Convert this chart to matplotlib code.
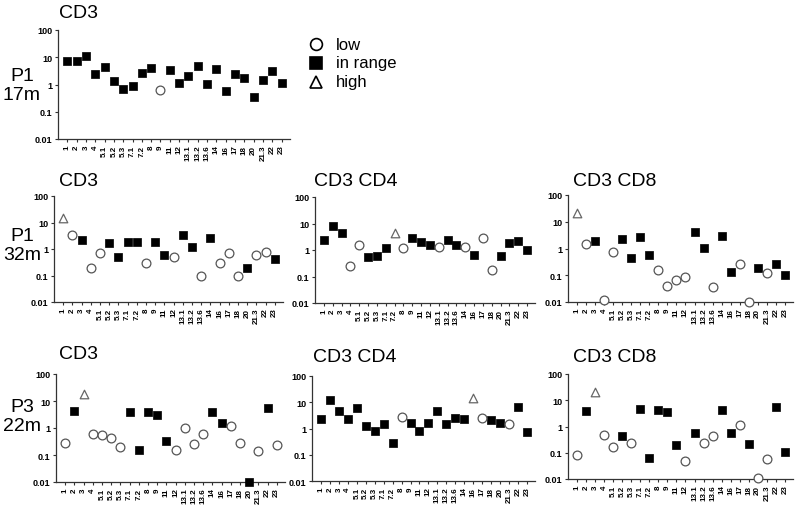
import matplotlib
matplotlib.use("Agg")
import matplotlib.pyplot as plt
import numpy as np

plt.rcParams['font.family'] = ['Liberation Sans', 'DejaVu Sans']

# sample sites on the x axis
sites = ['1', '2', '3', '4', '5.1', '5.2', '5.3', '7.1', '7.2', '8', '9', '11', '12',
         '13.1', '13.2', '13.6', '14', '16', '17', '18', '20', '21.3', '22', '23']

# values per panel; status: l = low, r = in range, h = high
p1_17m_cd3 = [7.5, 7, 11, 2.4, 4.3, 1.35, 0.71, 0.87, 2.7, 4.2, 0.63, 3.3, 1.15, 2.1, 4.9, 1.06,
              3.6, 0.6, 2.4, 1.8, 0.34, 1.47, 3.2, 1.1]
p1_17m_cd3_st = "rrrrrrrrrrlrrrrrrrrrrrrr"

p1_32m_cd3 = [14.5, 3.5, 2.2, 0.19, 0.7, 1.7, 0.49, 1.9, 1.85, 0.3, 1.85, 0.6, 0.5, 3.4, 1.2, 0.1,
              2.5, 0.3, 0.7, 0.1, 0.2, 0.6, 0.8, 0.42]
p1_32m_cd3_st = "hlrllrrrrlrrlrrlrlllrllr"

p1_32m_cd4 = [2.4, 8, 4.2, 0.26, 1.48, 0.54, 0.62, 1.2, 4.2, 1.2, 2.9, 2.0, 1.6, 1.35, 2.3, 1.6,
              1.25, 0.66, 2.9, 0.18, 0.57, 1.9, 2.2, 0.99]
p1_32m_cd4_st = "rrrllrrrhlrrrlrrlrllrrrr"

p1_32m_cd8 = [21, 1.45, 1.95, 0.012, 0.71, 2.25, 0.43, 2.6, 0.56, 0.16, 0.04, 0.065, 0.088, 4.1,
              1.06, 0.036, 3.0, 0.13, 0.26, 0.0103, 0.18, 0.12, 0.26, 0.1]
p1_32m_cd8_st = "hlrllrrrrllllrrlrrllrlrr"

p3_22m_cd3 = [0.27, 4.1, 18, 0.59, 0.53, 0.41, 0.2, 3.8, 0.155, 3.8, 3.1, 0.33, 0.155, 0.96, 0.25,
              0.6, 3.8, 1.5, 1.18, 0.27, 0.01, 0.14, 5.4, 0.23]
p3_22m_cd3_st = "lrhllllrrrrrllllrrllrlrl"

p3_22m_cd4 = [2.4, 12.4, 4.5, 2.4, 6.3, 1.3, 0.8, 1.5, 0.29, 2.8, 1.6, 0.78, 1.58, 4.7, 1.5, 2.6,
              2.25, 14.5, 2.5, 2.05, 1.66, 1.45, 6.6, 0.74]
p3_22m_cd4_st = "rrrrrrrrrlrrrrrrrhlrrlrr"

p3_22m_cd8 = [0.083, 3.9, 20, 0.48, 0.17, 0.43, 0.23, 4.6, 0.063, 4.2, 3.6, 0.195, 0.05, 0.56,
              0.23, 0.44, 4.3, 0.56, 1.1, 0.21, 0.011, 0.059, 5.4, 0.11]
p3_22m_cd8_st = "lrhllrlrrrrrlrllrrlrllrr"

W, H = 800, 506
fig = plt.figure(figsize=(8, 5.06), dpi=100)


def px_axes(l, t, r, b):
    return fig.add_axes([l / W, 1 - b / H, (r - l) / W, (b - t) / H])


def panel(rect, vals, st, title, tpos):
    ax = px_axes(*rect)
    x = np.arange(len(sites))
    v = np.array(vals)
    s = np.array(list(st))
    m = s == 'r'
    ax.scatter(x[m], v[m], marker='s', s=34, c='black', edgecolors='black', linewidths=0.5,
               clip_on=False, zorder=3)
    m = s == 'l'
    ax.scatter(x[m], v[m], marker='o', s=40, facecolors='white', edgecolors='#555555',
               linewidths=0.9, clip_on=False, zorder=3)
    m = s == 'h'
    ax.scatter(x[m], v[m], marker='^', s=38, facecolors='white', edgecolors='#666666',
               linewidths=0.9, clip_on=False, zorder=3)
    ax.set_yscale('log')
    ax.set_ylim(0.01, 100)
    ax.set_xlim(-1, 23.9)
    ax.set_yticks([0.01, 0.1, 1, 10, 100])
    ax.set_yticklabels(['0.01', '0.1', '1', '10', '100'], fontsize=6.5, fontweight='bold')
    ax.minorticks_off()
    ax.set_xticks(x)
    ax.set_xticklabels(sites, rotation=90, fontsize=5.8, fontweight='bold')
    ax.tick_params(length=2.5, width=0.8, pad=1.5, color='#333333')
    for sp in ['top', 'right']:
        ax.spines[sp].set_visible(False)
    for sp in ['left', 'bottom']:
        ax.spines[sp].set_linewidth(0.9)
        ax.spines[sp].set_color('#333333')
    fig.text(tpos[0] / W, 1 - tpos[1] / H, title, fontsize=14, va='center', ha='left')
    return ax


panel((58, 31, 290, 140), p1_17m_cd3, p1_17m_cd3_st, 'CD3', (59, 13))
panel((54, 197, 283, 303), p1_32m_cd3, p1_32m_cd3_st, 'CD3', (59, 182))
panel((315, 198, 535, 304), p1_32m_cd4, p1_32m_cd4_st, 'CD3 CD4', (314, 182))
panel((568, 196, 793, 303), p1_32m_cd8, p1_32m_cd8_st, 'CD3 CD8', (573, 182))
panel((56, 375, 285, 483), p3_22m_cd3, p3_22m_cd3_st, 'CD3', (59, 355))
panel((312, 377, 535, 482), p3_22m_cd4, p3_22m_cd4_st, 'CD3 CD4', (313, 357))
panel((568, 375, 793, 480), p3_22m_cd8, p3_22m_cd8_st, 'CD3 CD8', (573, 357))

# row labels
for txt, y in [('P1\n17m', 86), ('P1\n32m', 246), ('P3\n22m', 417)]:
    fig.text(22 / W, 1 - y / H, txt, fontsize=14, ha='center', va='center', linespacing=1.15)

# legend
legend_items = [('o', 'low', 'white'), ('s', 'in range', 'black'), ('^', 'high', 'white')]
for i, (mk, lab, fc) in enumerate(legend_items):
    y = 45 + i * 19
    fig.lines.append(plt.Line2D([316 / W], [1 - y / H], marker=mk, markersize=8.5,
                                markerfacecolor=fc, markeredgecolor='black',
                                markeredgewidth=1.2, linestyle='none',
                                transform=fig.transFigure))
    fig.text(336 / W, 1 - y / H, lab, fontsize=12, va='center', ha='left')

fig.savefig('out.png', dpi=100)
